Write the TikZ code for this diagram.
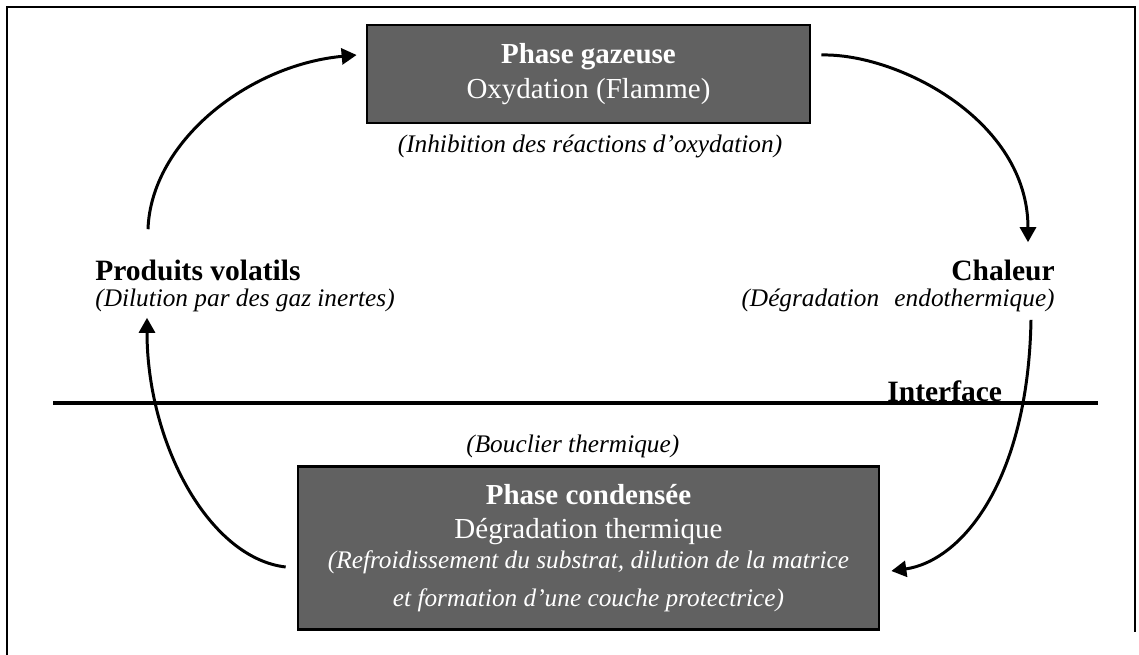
\documentclass[tikz,border=0pt]{standalone}
\usepackage{fontspec}
\setmainfont{Liberation Serif}
\usetikzlibrary{arrows.meta}

\tikzset{
  phasebox/.style={draw=black,line width=1.6pt,fill=black!62,text=white,
    align=center,inner sep=0pt,font=\fontsize{16.5}{21.6}\selectfont},
  titre/.style={inner sep=0pt,font=\fontsize{16.8}{20}\selectfont\bfseries},
  remarque/.style={inner sep=0pt,font=\fontsize{14.4}{17}\selectfont\itshape},
  fleche/.style={line width=1.7pt,-{Triangle[length=0.3cm,width=0.32cm]}},
}

\begin{document}
\begin{tikzpicture}[x=0.02cm,y=-0.02cm]
  \useasboundingbox (0,0) rectangle (1139,655);
  % cadre
  \draw[line width=1.4pt] (7,655) -- (7,7) -- (1135,7) -- (1135,632);
  % les deux phases
  \node[phasebox,minimum width=8.86cm,minimum height=1.96cm] (gaz) at (588.5,74)
    {{\bfseries Phase gazeuse}\\[-2pt]Oxydation (Flamme)};
  \node[phasebox,minimum width=11.62cm,minimum height=3.26cm] (cond) at (588.5,548)
    {{\bfseries Phase condensée}\\[-2.2pt]Dégradation thermique\\[-4.5pt]
     {\fontsize{14.4}{17}\selectfont\itshape (Refroidissement du substrat, dilution de la matrice}\\
     {\fontsize{14.4}{17}\selectfont\itshape et formation d'une couche protectrice)}};
  \node[remarque] (inhib) at (590,146) {(Inhibition des réactions d'oxydation)};
  \node[remarque,anchor=west] (bouc) at (466,446) {(Bouclier thermique)};
  % cotes gauche et droit
  \node[titre,anchor=west] (vol) at (95,270) {Produits volatils};
  \node[remarque,anchor=west] (dil) at (95,300) {(Dilution par des gaz inertes)};
  \node[titre,anchor=east] (chal) at (1055,270) {Chaleur};
  \node[remarque,anchor=east] (endo) at (1055,300) {(Dégradation\hspace{0.6em}endothermique)};
  % interface
  \draw[line width=2.3pt] (53,403) -- (1098,403);
  \node[titre,anchor=south west] (iface) at (887,402) {Interface};
  % cycle
  \draw[fleche] ([shift={(53,-30)}]vol.north west) .. controls +(3,-88) and +(-108,10) .. ([shift={(-9,-19)}]gaz.west);
  \draw[fleche] ([shift={(10,-19)}]gaz.east) .. controls +(75,-2) and +(0,-123) .. ([shift={(-27,-17)}]chal.north east);
  \draw[fleche] ([shift={(-24,8)}]endo.south east) .. controls +(-3,162) and +(70,-10) .. ([shift={(11,23)}]cond.east);
  \draw[fleche] ([shift={(-11,19)}]cond.west) .. controls +(-77,-9) and +(0,125) .. ([shift={(52,6)}]dil.south west);
\end{tikzpicture}
\end{document}
